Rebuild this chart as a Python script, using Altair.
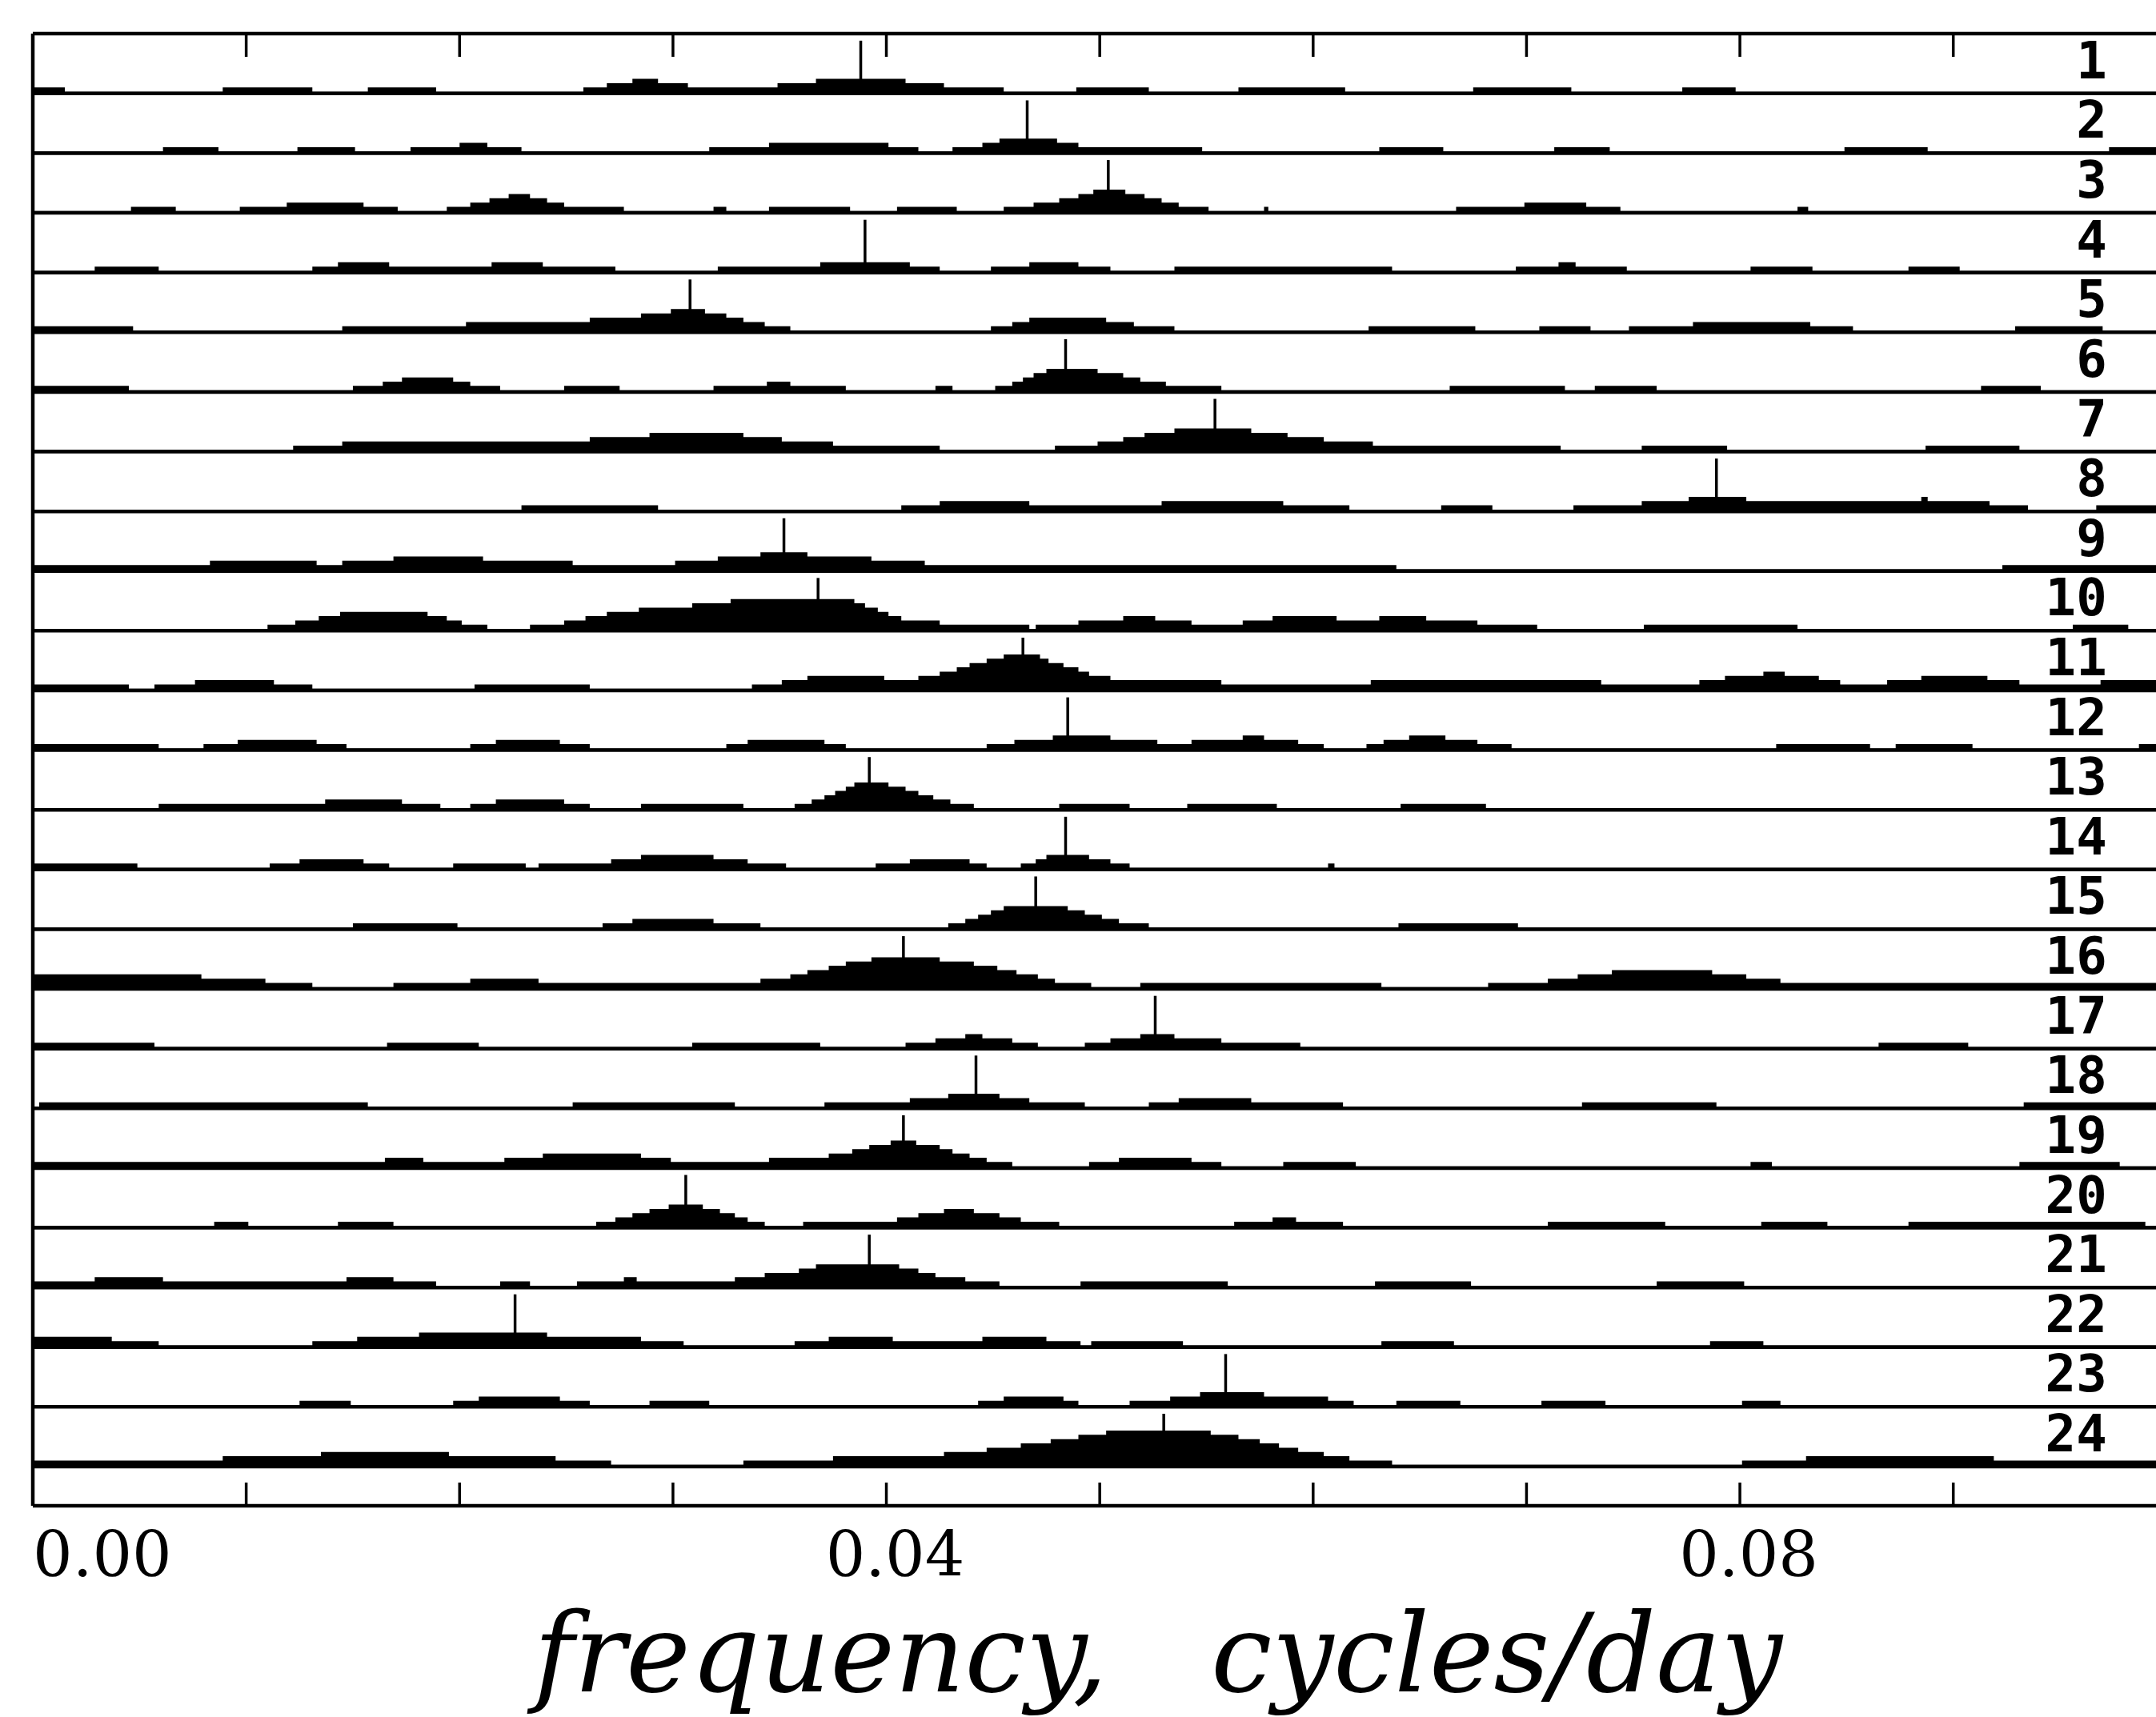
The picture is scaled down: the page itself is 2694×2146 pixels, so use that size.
import altair as alt
import pandas as pd

# Step edges of each spectrum, in units of 1e-3 cycles/day (row 1 .. row 24)
EDGES = [
    [0,1.5,8.9,13.1,15.7,18.9,25.8,26.9,28.1,29.3,30.7,34.9,36.7,40.9,42.7,45.5,48.9,52.3,56.5,61.5,67.5,72.1,77.3,79.8],
    [0,6.1,8.7,12.4,15.1,17.7,20.0,21.3,22.9,31.7,34.5,40.1,41.5,43.1,44.5,45.3,48.0,49.0,54.8,63.1,66.1,71.3,73.9,84.9,88.8,97.3],
    [0,4.6,6.7,9.7,11.9,15.5,17.1,19.4,20.5,21.4,22.3,23.3,24.1,24.9,27.7,31.9,32.5,34.5,38.3,40.5,43.3,45.5,46.9,48.1,49.0,49.7,51.2,52.1,52.9,53.7,55.1,57.7,57.9,66.7,69.9,72.8,74.4,82.7,83.2],
    [0,2.9,5.9,13.1,14.3,16.7,21.5,23.9,27.3,32.1,36.9,41.1,42.5,44.9,46.7,49.0,50.5,53.5,63.7,69.5,71.5,72.3,74.7,80.5,83.4,87.9,90.3],
    [0,4.7,14.5,20.3,26.1,28.5,29.9,31.5,32.5,33.3,34.3,35.5,44.9,45.9,46.7,50.3,51.6,53.5,62.6,67.6,70.6,73.0,74.8,77.8,83.3,85.3,92.9,97.0],
    [0,4.5,15.0,16.4,17.3,19.7,20.5,21.9,24.9,27.5,31.9,34.4,35.5,38.1,42.3,43.1,45.1,45.9,46.4,46.9,47.5,49.9,51.1,51.9,53.1,55.7,66.4,71.8,73.2,76.1,91.3,94.1],
    [0,12.2,14.5,26.1,28.9,33.3,35.1,37.5,42.5,47.9,49.9,51.1,52.1,53.5,57.1,58.8,60.5,62.8,71.6,75.4,79.4,88.7,93.1],
    [0,22.9,29.3,40.7,42.5,46.7,52.9,58.6,61.7,66.0,68.4,72.2,75.4,77.6,80.3,88.5,88.8,91.7,93.5,96.7],
    [0,8.3,13.3,14.5,16.9,21.1,25.3,30.1,32.1,34.1,36.3,39.3,41.8,63.9,92.3],
    [0,11.0,12.3,13.4,14.4,18.5,19.4,20.1,21.3,23.3,24.9,25.9,26.9,28.4,30.9,32.7,38.5,39.0,39.6,40.1,40.7,42.5,46.7,47.0,49.0,51.1,52.6,54.3,56.7,58.1,61.1,63.1,65.3,67.7,70.5,75.5,82.7,95.6,98.2],
    [0,4.5,5.7,7.6,11.3,13.1,20.7,26.1,33.7,35.1,36.3,39.9,41.5,42.5,43.3,43.9,44.7,45.5,47.2,47.6,48.3,49.0,49.5,50.5,55.7,62.7,73.5,78.1,79.3,81.1,82.1,83.7,84.7,86.9,88.5,91.6,93.1,96.9],
    [0,5.9,8.0,9.6,13.3,14.7,20.5,21.7,24.7,26.1,32.5,33.5,37.1,38.1,44.7,46.0,47.8,50.5,52.7,54.3,56.7,57.7,59.3,60.5,62.5,63.3,64.5,66.2,67.7,69.3,81.7,86.1,87.3,90.9,98.7],
    [0,5.9,13.7,17.3,19.1,20.5,21.7,24.9,26.1,28.5,33.3,35.7,36.5,37.1,37.6,38.1,38.5,40.1,40.9,41.5,42.2,43.0,44.1,48.1,51.4,54.1,58.3,64.1,68.1],
    [0,4.9,11.1,12.5,15.5,16.7,19.7,23.1,23.7,27.1,28.5,31.9,33.5,35.3,39.5,41.1,43.9,44.7,46.3,47.0,47.5,49.5,50.5,51.4,60.7,61.0],
    [0,15.0,19.9,26.7,28.1,31.9,34.1,42.9,43.7,44.3,44.9,45.5,48.5,49.3,50.1,50.9,52.3,64.0,69.6],
    [0,7.9,10.9,13.1,16.9,20.5,23.7,34.1,35.5,36.3,37.3,38.1,39.3,42.5,44.1,45.2,46.1,47.1,47.9,49.6,51.9,63.2,68.2,71.0,72.4,74.0,78.7,80.3,81.9],
    [0,5.7,16.6,20.9,30.9,36.9,40.9,42.3,43.7,44.5,45.9,47.1,49.3,50.5,51.9,53.5,55.7,59.4,86.5,90.7],
    [0,0.3,15.7,25.3,32.9,37.1,41.1,42.9,45.3,46.7,49.3,52.3,53.7,57.1,61.4,72.6,78.9,93.3],
    [0,16.5,18.3,22.1,23.9,28.5,29.9,34.5,37.3,38.4,39.2,40.2,41.4,42.5,43.1,43.9,44.7,45.9,49.5,50.9,54.3,55.7,58.6,62.0,80.5,81.5,93.1,97.8],
    [0,8.5,10.1,14.3,16.9,26.4,27.3,28.1,28.9,29.8,31.4,32.2,32.9,33.5,34.3,36.1,40.5,41.5,42.7,44.1,45.3,46.3,48.1,56.3,58.1,59.2,61.4,71.0,76.5,81.0,84.1,87.9,99.0],
    [0,2.9,6.1,14.7,16.9,18.9,21.9,23.3,25.5,27.7,28.3,32.9,34.3,35.9,36.7,40.6,41.5,42.3,43.7,45.3,49.1,56.0,62.9,67.4,76.1,80.2],
    [0,3.7,5.9,13.1,15.2,18.1,24.1,28.5,30.5,35.7,37.3,40.3,44.5,47.5,49.1,49.6,53.9,63.2,66.6,78.6,81.1],
    [0,12.5,14.9,19.7,20.9,24.7,26.1,28.9,31.7,44.3,45.5,48.3,49.0,51.4,53.3,54.7,57.7,60.7,61.9,63.9,66.9,70.7,73.7,80.1,81.9],
    [0,8.9,13.5,19.5,24.5,27.1,33.3,37.5,42.7,44.7,46.3,47.7,49.0,50.3,55.2,56.5,57.5,58.4,59.3,60.5,61.7,63.7,80.1,83.1,91.9],
]

# Quantised power level starting at each edge
LEVELS = [
    [1,0,1,0,1,0,1,2,3,2,1,2,3,2,1,0,1,0,1,0,1,0,1,0],
    [0,1,0,1,0,1,2,1,0,1,2,1,0,1,2,3,2,1,0,1,0,1,0,1,0,1],
    [0,1,0,1,2,1,0,1,2,3,4,3,2,1,0,1,0,1,0,1,0,1,2,3,4,5,4,3,2,1,0,1,0,1,2,1,0,1,0],
    [0,1,0,1,2,1,2,1,0,1,2,1,0,1,2,1,0,1,0,1,2,1,0,1,0,1,0],
    [1,0,1,2,3,4,5,4,3,2,1,0,1,2,3,2,1,0,1,0,1,0,1,2,1,0,1,0],
    [1,0,1,2,3,2,1,0,1,0,1,2,1,0,1,0,1,2,3,4,5,4,3,2,1,0,1,0,1,0,1,0],
    [0,1,2,3,4,3,2,1,0,1,2,3,4,5,4,3,2,1,0,1,0,1,0],
    [0,1,0,1,2,1,2,1,0,1,0,1,2,3,2,3,2,1,0,1],
    [1,2,1,2,3,2,1,2,3,4,3,2,1,0,1],
    [0,1,2,3,4,3,2,1,0,1,2,3,4,5,6,7,6,5,4,3,2,1,0,1,2,3,2,1,2,3,2,3,2,1,0,1,0,1,0],
    [1,0,1,2,1,0,1,0,1,2,3,2,3,4,5,6,7,8,7,6,5,4,3,2,1,2,1,2,3,4,3,2,1,2,3,2,1,2],
    [1,0,1,2,1,0,1,2,1,0,1,2,1,0,1,2,3,2,1,2,3,2,1,0,1,2,3,2,1,0,1,0,1,0,1],
    [0,1,2,1,0,1,2,1,0,1,0,1,2,3,4,5,6,5,4,3,2,1,0,1,0,1,0,1,0],
    [1,0,1,2,1,0,1,0,1,2,3,2,1,0,1,2,1,0,1,2,3,2,1,0,1,0],
    [0,1,0,1,2,1,0,1,2,3,4,5,4,3,2,1,0,1,0],
    [3,2,1,0,1,2,1,2,3,4,5,6,7,6,5,4,3,2,1,0,1,0,1,2,3,4,3,2,1],
    [1,0,1,0,1,0,1,2,3,2,1,0,1,2,3,2,1,0,1,0],
    [0,1,0,1,0,1,2,3,2,1,0,1,2,1,0,1,0,1],
    [1,2,1,2,3,2,1,2,3,4,5,6,5,4,3,2,1,0,1,2,1,0,1,0,1,0,1,0],
    [0,1,0,1,0,1,2,3,4,5,4,3,2,1,0,1,2,3,4,3,2,1,0,1,2,1,0,1,0,1,0,1,0],
    [1,2,1,2,1,0,1,0,1,2,1,2,3,4,5,4,3,2,1,0,1,0,1,0,1,0],
    [2,1,0,1,2,3,2,1,0,1,2,1,2,1,0,1,0,1,0,1,0],
    [0,1,0,1,2,1,0,1,0,1,2,1,0,1,2,3,2,1,0,1,0,1,0,1,0],
    [1,2,3,2,1,0,1,2,3,4,5,6,7,8,7,6,5,4,3,2,1,0,1,2,1],
]

# Marked peak frequency of each row (1e-3 cycles/day)
PEAKS = [38.8, 46.6, 50.4, 39.0, 30.8, 48.4, 55.4, 78.9, 35.2, 36.8, 46.4, 48.5,
         39.2, 48.4, 47.0, 40.8, 52.6, 44.2, 40.8, 30.6, 39.2, 22.6, 55.9, 53.0]

ROW_NAMES = [str(i) for i in range(1, 25)]
TICK_VALUES = [0.01, 0.02, 0.03, 0.04, 0.05, 0.06, 0.07, 0.08, 0.09]
TICK_LABELS = [0.0, 0.04, 0.08]
X_TITLE = "frequency,\u00a0\u00a0 cycles/day"

W, H = 2653, 1840
X_MAX = 0.0995
Y_MAX = 24.66
BASE0 = 0.657
PX = H / Y_MAX
XPX = W / X_MAX
LEVEL = 5.35 / PX
LIFT = 2.2 / PX
SPIKE = 66 / PX
TICK_LEN = 29 / PX
LABEL_UP = 19 / PX
LABEL_X = 0.0972
TICKLABEL_Y = -88 / PX
TITLE_Y = -232 / PX
TITLE_X = 1406 / XPX

area_rows, base_rows, spike_rows, label_rows = [], [], [], []
for i in range(24):
    base = BASE0 + (23 - i)
    e, l = EDGES[i], LEVELS[i]
    for f, lv in zip(e, l):
        area_rows.append({"row": i + 1, "f": f / 1000.0, "top": base + LIFT + lv * LEVEL, "base": base})
    area_rows.append({"row": i + 1, "f": X_MAX, "top": base + LIFT + l[-1] * LEVEL, "base": base})
    base_rows.append({"row": i + 1, "x0": 0.0, "x1": X_MAX, "base": base})
    spike_rows.append({"row": i + 1, "f": PEAKS[i] / 1000.0, "base": base, "tip": base + SPIKE})
    label_rows.append({"name": ROW_NAMES[i], "lx": LABEL_X, "ly": base + LABEL_UP})

tick_rows = []
for t in TICK_VALUES:
    tick_rows.append({"f": t, "y0": Y_MAX, "y1": Y_MAX - TICK_LEN})
    tick_rows.append({"f": t, "y0": 0.0, "y1": TICK_LEN})

frame_rows = [
    {"x0": 0.0, "x1": X_MAX, "y0": Y_MAX, "y1": Y_MAX},
    {"x0": 0.0, "x1": X_MAX, "y0": 0.0, "y1": 0.0},
    {"x0": 0.0, "x1": 0.0, "y0": 0.0, "y1": Y_MAX},
]

tl_first = [{"f": TICK_LABELS[0], "y": TICKLABEL_Y, "txt": f"{TICK_LABELS[0]:.2f}"}]
tl_rest = [{"f": v, "y": TICKLABEL_Y, "txt": f"{v:.2f}"} for v in TICK_LABELS[1:]]
title_rows = [{"f": TITLE_X, "y": TITLE_Y, "txt": X_TITLE}]

xs = alt.Scale(domain=[0, X_MAX], nice=False, zero=False)
ys = alt.Scale(domain=[0, Y_MAX], nice=False, zero=False)

area = alt.Chart(pd.DataFrame(area_rows)).mark_area(
    interpolate="step-after", color="black", opacity=1
).encode(
    x=alt.X("f:Q", scale=xs, axis=None),
    y=alt.Y("top:Q", scale=ys, axis=None, stack=None),
    y2="base:Q",
    detail="row:N",
)

baselines = alt.Chart(pd.DataFrame(base_rows)).mark_rule(color="black", strokeWidth=4.5).encode(
    x=alt.X("x0:Q", scale=xs, axis=None), x2="x1:Q",
    y=alt.Y("base:Q", scale=ys, axis=None),
)

spikes = alt.Chart(pd.DataFrame(spike_rows)).mark_rule(color="black", strokeWidth=3.5).encode(
    x=alt.X("f:Q", scale=xs, axis=None),
    y=alt.Y("base:Q", scale=ys, axis=None), y2="tip:Q",
)

ticks = alt.Chart(pd.DataFrame(tick_rows)).mark_rule(color="black", strokeWidth=3.5).encode(
    x=alt.X("f:Q", scale=xs, axis=None),
    y=alt.Y("y0:Q", scale=ys, axis=None), y2="y1:Q",
)

frame = alt.Chart(pd.DataFrame(frame_rows)).mark_rule(color="black", strokeWidth=4.5).encode(
    x=alt.X("x0:Q", scale=xs, axis=None), x2="x1:Q",
    y=alt.Y("y0:Q", scale=ys, axis=None), y2="y1:Q",
)

labels = alt.Chart(pd.DataFrame(label_rows)).mark_text(
    align="right", baseline="alphabetic", font="DejaVu Sans Mono", fontWeight="bold",
    fontSize=64, color="black"
).encode(
    x=alt.X("lx:Q", scale=xs, axis=None),
    y=alt.Y("ly:Q", scale=ys, axis=None),
    text="name:N",
)

tick_text_first = alt.Chart(pd.DataFrame(tl_first)).mark_text(
    align="left", baseline="alphabetic", font="DejaVu Serif", fontSize=78, color="black"
).encode(
    x=alt.X("f:Q", scale=xs, axis=None),
    y=alt.Y("y:Q", scale=ys, axis=None),
    text="txt:N",
)

tick_text_rest = alt.Chart(pd.DataFrame(tl_rest)).mark_text(
    align="center", baseline="alphabetic", font="DejaVu Serif", fontSize=78, color="black", dx=11
).encode(
    x=alt.X("f:Q", scale=xs, axis=None),
    y=alt.Y("y:Q", scale=ys, axis=None),
    text="txt:N",
)

title = alt.Chart(pd.DataFrame(title_rows)).mark_text(
    align="center", baseline="alphabetic", font="DejaVu Serif", fontStyle="italic",
    fontSize=136, color="black"
).encode(
    x=alt.X("f:Q", scale=xs, axis=None),
    y=alt.Y("y:Q", scale=ys, axis=None),
    text="txt:N",
)

chart = alt.layer(
    area, baselines, spikes, ticks, frame, labels, tick_text_first, tick_text_rest, title
).properties(
    width=W, height=H,
    autosize=alt.AutoSizeParams(type="none"),
    padding={"left": 41, "top": 42, "right": 0, "bottom": 264},
    background="white",
).configure_view(strokeWidth=0)

chart.save("out.html", embed_options={"renderer": "svg", "actions": False})
